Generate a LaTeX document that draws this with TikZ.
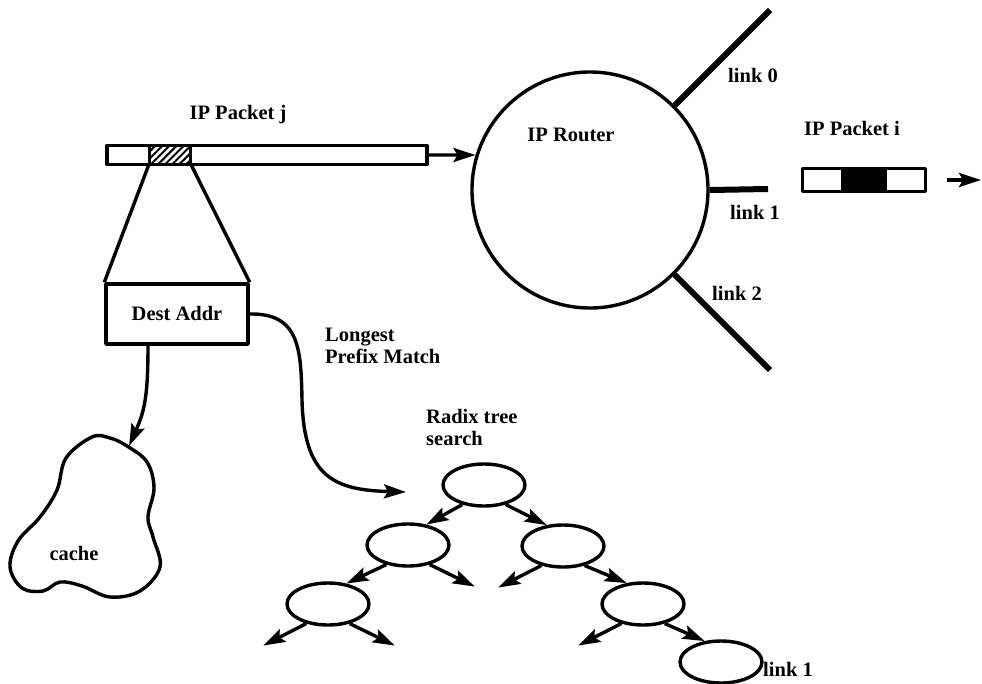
\documentclass[tikz,border=0pt]{standalone}
\usepackage{fontspec}
\setmainfont{Liberation Serif}
\usetikzlibrary{arrows.meta,patterns.meta,shapes.geometric,calc}

\begin{document}
\begin{tikzpicture}[x=1pt,y=-1pt,line join=round,
  lbl/.style={font=\fontsize{20.5}{22}\selectfont\bfseries,inner sep=0pt},
  arr/.style={line width=3.4pt,-{Stealth[length=22pt,width=14pt,inset=4pt]}},
  box/.style={draw,line width=3.4pt,inner sep=0pt},
  tnode/.style={ellipse,draw,line width=3.4pt,minimum width=82pt,minimum height=42pt,inner sep=0pt},
  linkline/.style={line width=6pt}]
\useasboundingbox (0,0) rectangle (982,683);

% incoming packet with its destination field hatched
\node[box,minimum width=320pt,minimum height=19pt] (pj) at (267,155) {};
\node[box,minimum width=41pt,minimum height=19pt,
      pattern={Lines[angle=45,distance=5pt,line width=2pt]}] (hat) at (170,155) {};
\node[lbl] (pjlbl) at (238,115) {IP Packet j};

% router with its output links
\node[circle,draw,line width=3.4pt,minimum size=236pt,inner sep=0pt] (router) at (590,190) {};
\node[lbl] (rlbl) at (571,135) {IP Router};
\draw[arr] (pj.east) -- (router.163);
\coordinate (l0end) at (770,10);
\coordinate (l1end) at (768,189);
\coordinate (l2end) at (770,370);
\draw[linkline] (router.45) -- (l0end);
\draw[linkline] (router.0) -- (l1end);
\draw[linkline] (router.-45) -- (l2end);
\node[lbl,anchor=west] (lk0) at (728,75) {link 0};
\node[lbl,anchor=west] (lk1) at (730,212) {link 1};
\node[lbl,anchor=west] (lk2) at (712,293) {link 2};

% outgoing packet
\node[box,minimum width=123pt,minimum height=23pt] (pi) at (864,180) {};
\node[box,fill=black,minimum width=42pt,minimum height=23pt] (pifield) at (864,180) {};
\node[lbl] (pilbl) at (852,128) {IP Packet i};
\coordinate (pout) at (947,180);
\coordinate (pend) at (981,180);
\draw[arr] (pout) -- (pend);

% destination address extracted from the header
\node[box,minimum width=142pt,minimum height=60pt] (dest) at (177,314) {};
\node[lbl] (destlbl) at (177,313) {Dest Addr};
\draw[line width=3.4pt] (hat.south west) -- (dest.north west);
\draw[line width=3.4pt] (hat.south east) -- (dest.north east);

% route cache
\draw[line width=3.4pt] plot[smooth cycle,tension=0.6] coordinates {
  (92,437) (66,458) (57,490) (40,517) (18,541) (10,567) (22,588) (43,591)
  (60,582) (82,586) (110,597) (140,591) (160,567) (153,537) (148,517)
  (154,488) (147,462) (127,446) (110,438)};
\node[lbl] (cachelbl) at (74,553) {cache};
\coordinate (cachetop) at (129,446);
\draw[arr] (148,344) .. controls (148,395) and (145,410) .. (cachetop);

% longest prefix match via radix tree
\node[lbl,anchor=west,align=left] (lpm) at (325,346) {Longest\\Prefix Match};
\node[lbl,anchor=west,align=left] (radix) at (426,427) {Radix tree\\search};
\coordinate (lpmend) at (406,492);
\draw[arr] (dest.east) .. controls (300,313) and (301,350) .. (302,400)
  .. controls (304,478) and (335,490) .. (lpmend);

\node[tnode] (n0) at (484,485) {};
\node[tnode] (n1) at (408,545) {};
\node[tnode] (n2) at (563,546) {};
\node[tnode] (n3) at (328,604) {};
\node[tnode] (n4) at (643,604) {};
\node[tnode] (n5) at (721,662) {};
\node[lbl,anchor=west] (lk1t) at (763,669) {link 1};

\draw[arr] (n0.222) -- (n1.48);
\draw[arr] (n0.-42) -- (n2.128);
\draw[arr] (n1.222) -- (n3.48);
\draw[arr] (n2.-42) -- (n4.128);
\draw[arr] (n4.-42) -- (n5.128);

\coordinate (e1) at ($(n1.-42)+(45,22)$);
\coordinate (e2) at ($(n2.222)+(-43,22)$);
\coordinate (e3) at ($(n3.222)+(-43,22)$);
\coordinate (e4) at ($(n3.-42)+(45,22)$);
\coordinate (e5) at ($(n4.222)+(-43,22)$);
\draw[arr] (n1.-42) -- (e1);
\draw[arr] (n2.222) -- (e2);
\draw[arr] (n3.222) -- (e3);
\draw[arr] (n3.-42) -- (e4);
\draw[arr] (n4.222) -- (e5);
\end{tikzpicture}
\end{document}
